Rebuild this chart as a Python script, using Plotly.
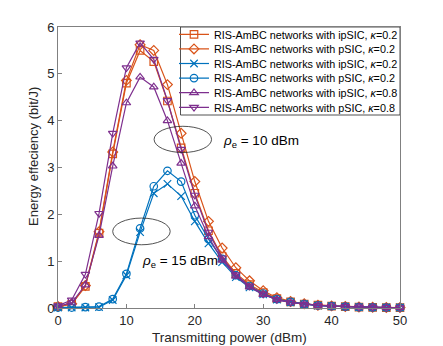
import plotly.graph_objects as go

x = list(range(0, 51, 2))

ipsic_k02_10 = [0.03, 0.08, 0.46, 1.60, 3.29, 4.80, 5.50, 5.26, 4.42, 3.42, 2.45, 1.65, 1.10, 0.74, 0.50, 0.33, 0.20, 0.13, 0.085, 0.06, 0.04, 0.03, 0.02, 0.015, 0.01, 0.01]
psic_k02_10 = [0.03, 0.09, 0.48, 1.63, 3.33, 4.86, 5.62, 5.50, 4.77, 3.73, 2.70, 1.85, 1.28, 0.86, 0.58, 0.37, 0.22, 0.14, 0.09, 0.06, 0.045, 0.03, 0.02, 0.015, 0.01, 0.01]
ipsic_k02_15 = [0.01, 0.01, 0.01, 0.02, 0.17, 0.70, 1.62, 2.45, 2.65, 2.39, 1.85, 1.38, 0.98, 0.66, 0.44, 0.29, 0.18, 0.12, 0.08, 0.05, 0.04, 0.03, 0.02, 0.015, 0.01, 0.01]
psic_k02_15 = [0.01, 0.01, 0.02, 0.03, 0.19, 0.73, 1.70, 2.60, 2.93, 2.70, 1.98, 1.47, 1.05, 0.70, 0.47, 0.31, 0.19, 0.13, 0.085, 0.055, 0.04, 0.03, 0.02, 0.015, 0.01, 0.01]
ipsic_k08_10 = [0.04, 0.11, 0.49, 1.55, 3.03, 4.38, 4.93, 4.72, 4.00, 3.09, 2.18, 1.52, 1.02, 0.68, 0.45, 0.29, 0.18, 0.12, 0.08, 0.055, 0.04, 0.03, 0.02, 0.015, 0.01, 0.01]
psic_k08_10 = [0.05, 0.17, 0.72, 2.02, 3.73, 5.13, 5.66, 5.31, 4.43, 3.39, 2.41, 1.62, 1.07, 0.71, 0.47, 0.30, 0.18, 0.12, 0.08, 0.055, 0.04, 0.03, 0.02, 0.015, 0.01, 0.01]

names = [
    "RIS-AmBC networks with ipSIC, <i>κ</i>=0.2",
    "RIS-AmBC networks with pSIC, <i>κ</i>=0.2",
    "RIS-AmBC networks with ipSIC, <i>κ</i>=0.2",
    "RIS-AmBC networks with pSIC, <i>κ</i>=0.2",
    "RIS-AmBC networks with ipSIC, <i>κ</i>=0.8",
    "RIS-AmBC networks with pSIC, <i>κ</i>=0.8",
]
series = [ipsic_k02_10, psic_k02_10, ipsic_k02_15, psic_k02_15, ipsic_k08_10, psic_k08_10]
colors = ["#D95319", "#D95319", "#0072BD", "#0072BD", "#7E2F8E", "#7E2F8E"]
symbols = ["square-open", "diamond-open", "x-thin-open", "circle-open", "triangle-up-open", "triangle-down-open"]

# layout geometry (pixels)
W, H = 443, 346
ML, MR, MT, MB = 58, 43, 27, 38
PW, PH = W - ML - MR, H - MT - MB

def px_x(p):
    return (p - ML) / PW

def px_y(p):
    return (H - MB - p) / PH

row_centers = [34.3, 48.9, 63.5, 78.1, 92.7, 107.3]

fig = go.Figure()
layout_legends = {}
for i, (n, s, c, sym) in enumerate(zip(names, series, colors, symbols)):
    lname = "legend" if i == 0 else f"legend{i+1}"
    fig.add_trace(go.Scatter(
        x=x, y=s, name=n, mode="lines+markers", cliponaxis=False, legend=lname,
        line=dict(color=c, width=1.2),
        marker=dict(symbol=sym, size=7.5, color=c, line=dict(color=c, width=1.2)),
    ))
    layout_legends[lname] = dict(
        x=px_x(174), y=px_y(row_centers[i]), xanchor="left", yanchor="middle",
        bgcolor="rgba(0,0,0,0)", borderwidth=0,
        font=dict(size=10.8, color="#000"), itemwidth=30,
    )

# legend box
fig.add_shape(type="rect", xref="paper", yref="paper",
              x0=px_x(180.5), x1=1.0, y0=px_y(115), y1=1.0,
              line=dict(color="#262626", width=0.8), fillcolor="white", layer="below")

fig.add_shape(type="circle", xref="x", yref="y", x0=14.05, x1=22.45, y0=3.32, y1=3.88,
              line=dict(color="#262626", width=0.8))
fig.add_shape(type="circle", xref="x", yref="y", x0=8.0, x1=16.4, y0=1.35, y1=1.92,
              line=dict(color="#262626", width=0.8))
fig.add_annotation(x=23.9, y=3.55, text="<i>ρ</i><sub>e</sub> = 10 dBm", showarrow=False,
                   xanchor="left", yanchor="middle", font=dict(size=13.5, color="#000"))
fig.add_annotation(x=12.0, y=1.0, text="<i>ρ</i><sub>e</sub> = 15 dBm", showarrow=False,
                   xanchor="left", yanchor="middle", font=dict(size=13.5, color="#000"))

# axis titles
fig.add_annotation(xref="paper", yref="paper", x=0.5, y=px_y(337), text="Transmitting power (dBm)",
                   showarrow=False, xanchor="center", yanchor="middle",
                   font=dict(size=13.5, color="#262626"))
fig.add_annotation(xref="paper", yref="paper", x=px_x(33), y=px_y(157), text="Energy effeciency (bit/J)",
                   showarrow=False, xanchor="center", yanchor="middle", textangle=-90,
                   font=dict(size=13, color="#262626"))

axis_common = dict(showgrid=False, zeroline=False, showline=True, mirror=True, automargin=False,
                   linecolor="#808080", linewidth=1, ticks="inside", ticklen=4,
                   tickcolor="#808080", tickfont=dict(size=13, color="#262626"))
fig.update_xaxes(range=[0, 50], tickvals=[0, 10, 20, 30, 40, 50], **axis_common)
fig.update_yaxes(range=[0, 6], tickvals=[0, 1, 2, 3, 4, 5, 6], **axis_common)

fig.update_layout(
    width=W, height=H, showlegend=True,
    margin=dict(l=ML, r=MR, t=MT, b=MB),
    plot_bgcolor="white", paper_bgcolor="white",
    font=dict(family="Liberation Sans, Arial, sans-serif"),
    **layout_legends,
)
fig.write_html("out.html", config={"displayModeBar": False},
               post_script="document.body.style.margin='0';document.body.style.overflow='hidden';")
